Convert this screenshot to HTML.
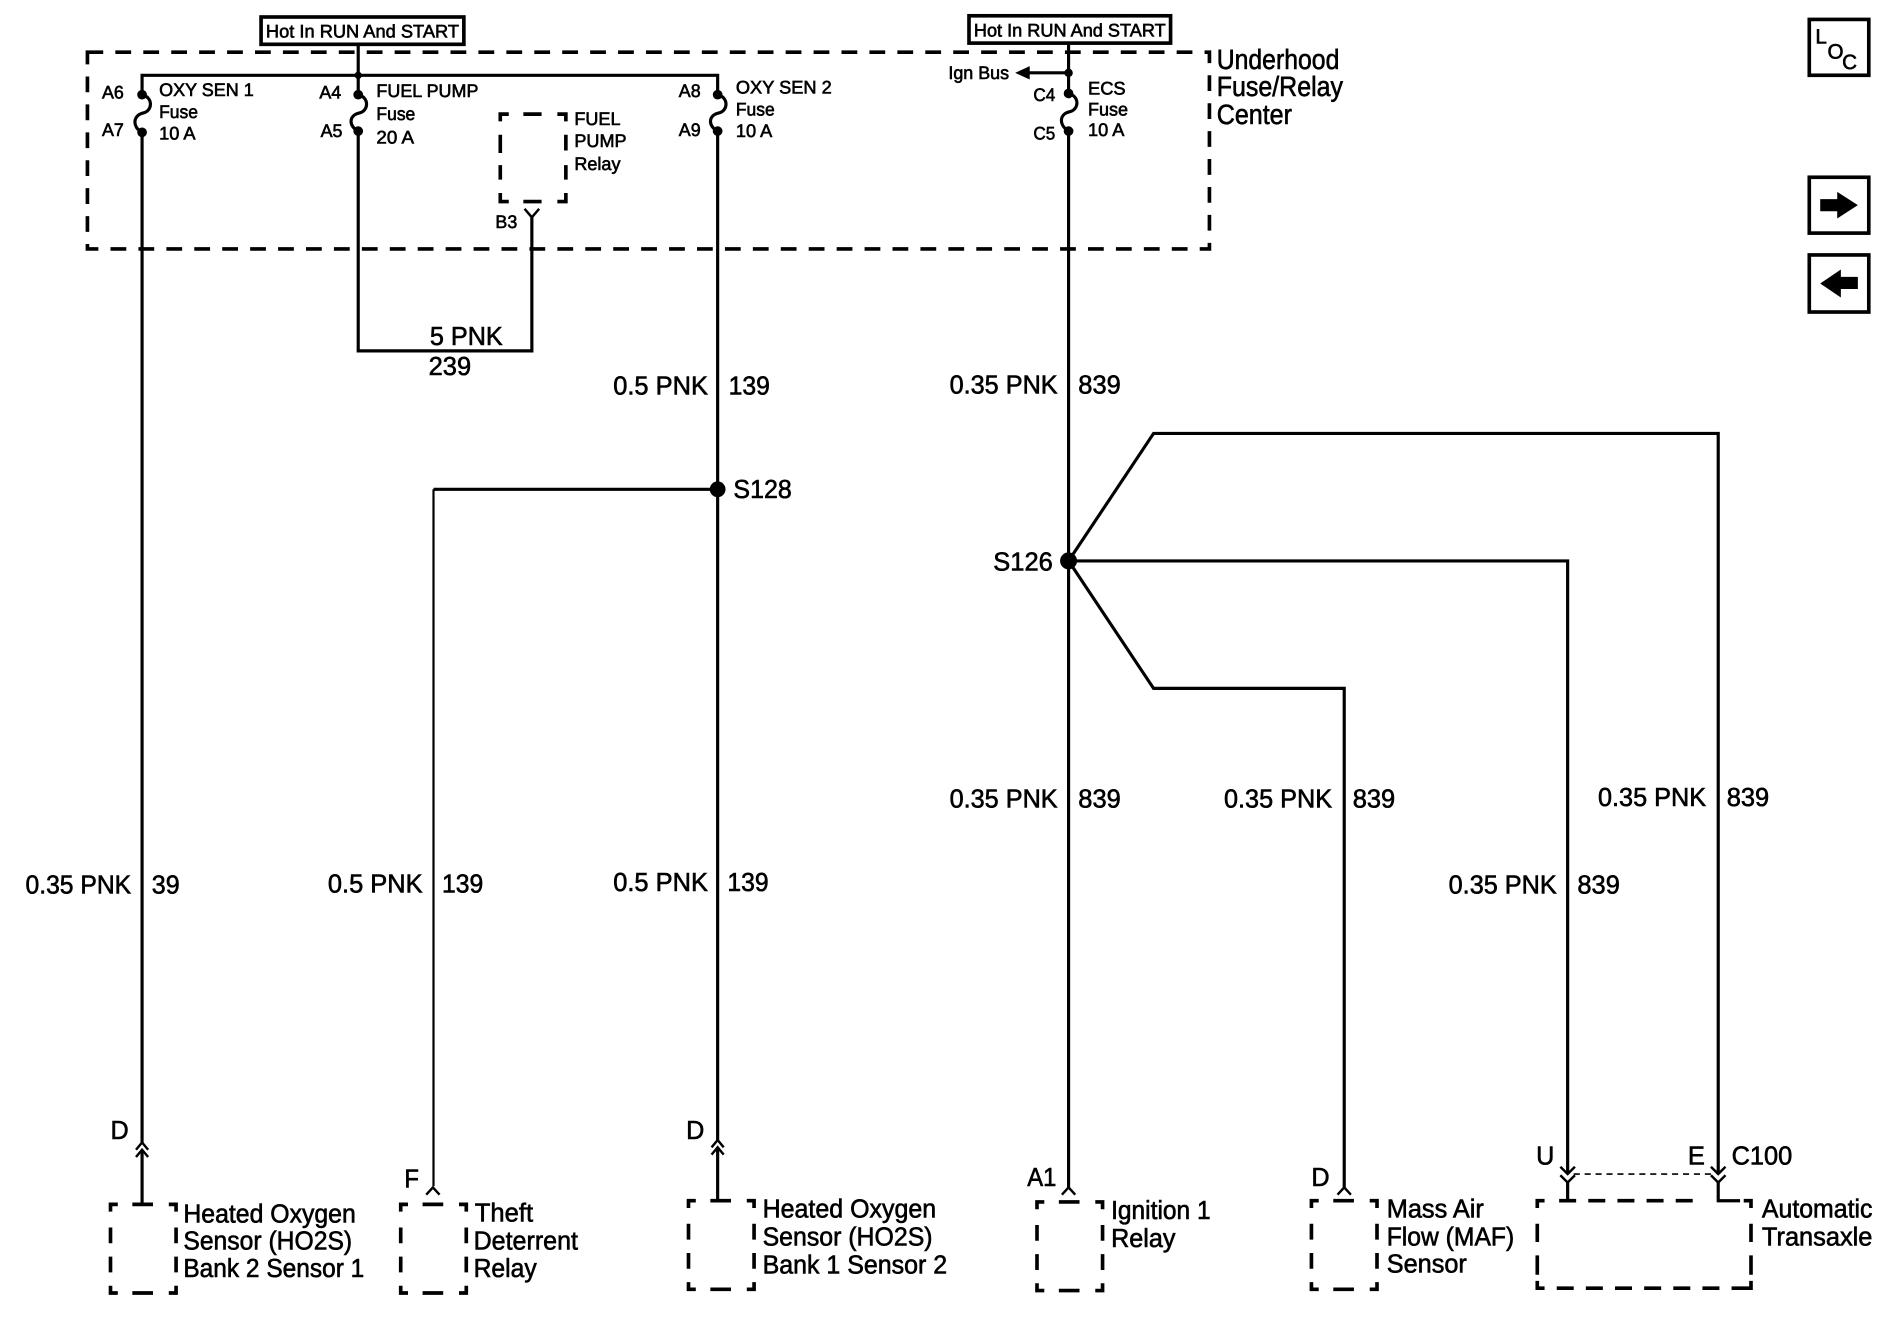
<!DOCTYPE html>
<html>
<head>
<meta charset="utf-8">
<style>
html,body{margin:0;padding:0;background:#fff;width:1904px;height:1344px;overflow:hidden}
svg{display:block}
text{font-family:"Liberation Sans",sans-serif;fill:#000;stroke:#000;stroke-width:.5}
.s{font-size:15px}.m{font-size:21.5px}.l{font-size:23px}
.w{fill:none;stroke:#000;stroke-width:2.6}
.t{fill:none;stroke:#000;stroke-width:2}
.d{fill:none;stroke:#000;stroke-width:3}
.f{fill:#000;stroke:none}
</style>
</head>
<body>
<svg xmlns="http://www.w3.org/2000/svg" width="1904" height="1344" viewBox="0 0 1568 1107" preserveAspectRatio="none" text-rendering="geometricPrecision">
<defs>
<g id="box" class="d">
<path d="M0 6V0H6M18 0H35M48 0H54V6M0 19V32M0 43V56M0 67V73H6M18 73H35M48 73H54V67M54 19V32M54 43V56"/>
</g>
</defs>
<!-- Hot boxes -->
<rect x="215" y="14" width="167" height="22.5" class="d"/>
<rect x="798" y="13" width="166" height="22.5" class="d"/>
<text x="219" y="31" class="s" textLength="159" lengthAdjust="spacingAndGlyphs">Hot In RUN And START</text>
<text x="802" y="30" class="s" textLength="158" lengthAdjust="spacingAndGlyphs">Hot In RUN And START</text>
<!-- Underhood box -->
<rect x="72" y="43" width="924" height="162" fill="none" stroke="#000" stroke-width="3" stroke-dasharray="13 10"/>
<!-- Top wiring -->
<path class="w" d="M295 37V78M117 78V62H591V78"/>
<path class="w" d="M117 78C126 80 126 91 118 93C109 95 109 105 117 109V941"/>
<path class="w" d="M295 78C304 80 304 91 296 93C287 95 287 104 295 108V289H438V178"/>
<path class="w" d="M591 78C600 80 600 91 592 93C583 95 583 104 591 108V939"/>
<path class="w" d="M880 37V77C889 79 889 90 881 92C872 94 872 103 880 108V979"/>
<circle class="f" cx="117" cy="78" r="4"/><circle class="f" cx="117" cy="109" r="4"/>
<circle class="f" cx="295" cy="78" r="4"/><circle class="f" cx="295" cy="108" r="4"/>
<circle class="f" cx="295" cy="62" r="3"/>
<circle class="f" cx="591" cy="78" r="4"/><circle class="f" cx="591" cy="108" r="4"/>
<circle class="f" cx="880" cy="77" r="4"/><circle class="f" cx="880" cy="108" r="4"/>
<circle class="f" cx="880" cy="60" r="3.5"/>
<path class="w" d="M880 60H846"/>
<path class="f" d="M836 60L848 54.500V65.500Z"/>
<path class="t" d="M432 172L438 179L444 172"/>
<!-- Relay box -->
<path class="d" d="M412 100V94H419M431 94H446M459 94H466V100M412 111V126M412 136V148M412 159V166H419M431 166H446M459 166H466V159M466 111V124M466 136V148"/>
<!-- Lower wiring -->
<path class="w" d="M591 403H357"/>
<path fill="none" stroke="#000" stroke-width="1.800" d="M357 403V977"/>
<circle class="f" cx="591" cy="403" r="6.500"/>
<path class="w" d="M880 462L950 357H1415V966M880 462H1291V966M880 462L950 567H1107V978"/>
<circle class="f" cx="880" cy="462" r="7"/>
<!-- connectors -->
<path class="t" d="M112 947L117 941L122 947M112 953L117 947L122 953"/>
<path class="w" d="M117 947V992"/>
<path class="t" d="M586 945L591 939L596 945M586 951L591 945L596 951"/>
<path class="w" d="M591 945V989"/>
<path class="t" d="M351 984L356.500 978L362 984"/>
<path class="t" d="M874.500 984L880 978L885.500 984"/>
<path class="t" d="M1101.500 984L1107 978L1112.500 984"/>
<path class="t" d="M1285 961L1291 967L1297 961M1285 968L1291 974L1297 968"/>
<path class="t" d="M1409 961L1415 967L1421 961M1409 968L1415 974L1421 968"/>
<path class="w" d="M1291 974V989M1415 974V989H1433"/>
<path fill="none" stroke="#000" stroke-width="1.300" stroke-dasharray="5 4" d="M1296 967H1410"/>
<!-- component boxes -->
<use href="#box" x="91" y="992"/>
<use href="#box" x="330" y="992"/>
<use href="#box" x="567" y="989"/>
<use href="#box" x="854" y="990"/>
<use href="#box" x="1080" y="989"/>
<path class="d" d="M1266 995V989H1272M1266 1008V1023M1266 1034V1050M1266 1055V1061H1272M1282 1061H1296M1306 1061H1320M1330 1061H1344M1354 1061H1368M1378 1061H1392M1402 1061H1416M1426 1061H1442V1055M1442 1034V1050M1442 1008V1023M1442 995V989H1436M1284 989H1298M1308 989H1322M1332 989H1346M1356 989H1370M1380 989H1394"/>
<!-- nav boxes -->
<rect x="1490" y="16" width="49" height="46" class="d"/>
<rect x="1490" y="146" width="49" height="46" class="d"/>
<rect x="1490" y="210" width="49" height="47" class="d"/>
<text x="1495" y="36" font-size="17">L</text><text x="1505" y="48" font-size="17">O</text><text x="1517" y="57" font-size="17">C</text>
<path class="f" d="M1499 164H1513V158L1530 169L1513 180V174H1499Z"/>
<path class="f" d="M1530 228H1516V222L1499 233.500L1516 245V238H1530Z"/>
<!-- small labels -->
<text x="84" y="81" class="s" textLength="18" lengthAdjust="spacingAndGlyphs">A6</text>
<text x="84" y="112" class="s" textLength="18" lengthAdjust="spacingAndGlyphs">A7</text>
<text x="131" y="79" class="s" textLength="78" lengthAdjust="spacingAndGlyphs">OXY SEN 1</text>
<text x="131" y="97" class="s" textLength="32" lengthAdjust="spacingAndGlyphs">Fuse</text>
<text x="131" y="115" class="s" textLength="30" lengthAdjust="spacingAndGlyphs">10 A</text>
<text x="263" y="81" class="s" textLength="18" lengthAdjust="spacingAndGlyphs">A4</text>
<text x="264" y="113" class="s" textLength="18" lengthAdjust="spacingAndGlyphs">A5</text>
<text x="310" y="80" class="s" textLength="84" lengthAdjust="spacingAndGlyphs">FUEL PUMP</text>
<text x="310" y="99" class="s" textLength="32" lengthAdjust="spacingAndGlyphs">Fuse</text>
<text x="310" y="118" class="s" textLength="31" lengthAdjust="spacingAndGlyphs">20 A</text>
<text x="473" y="103" class="s" textLength="38" lengthAdjust="spacingAndGlyphs">FUEL</text>
<text x="473" y="121" class="s" textLength="43" lengthAdjust="spacingAndGlyphs">PUMP</text>
<text x="473" y="140" class="s" textLength="38" lengthAdjust="spacingAndGlyphs">Relay</text>
<text x="408" y="188" class="s" textLength="18" lengthAdjust="spacingAndGlyphs">B3</text>
<text x="559" y="80" class="s" textLength="18" lengthAdjust="spacingAndGlyphs">A8</text>
<text x="559" y="112" class="s" textLength="18" lengthAdjust="spacingAndGlyphs">A9</text>
<text x="606" y="77" class="s" textLength="79" lengthAdjust="spacingAndGlyphs">OXY SEN 2</text>
<text x="606" y="95" class="s" textLength="32" lengthAdjust="spacingAndGlyphs">Fuse</text>
<text x="606" y="113" class="s" textLength="30" lengthAdjust="spacingAndGlyphs">10 A</text>
<text x="781" y="65" class="s" textLength="50" lengthAdjust="spacingAndGlyphs">Ign Bus</text>
<text x="851" y="83" class="s" textLength="18" lengthAdjust="spacingAndGlyphs">C4</text>
<text x="851" y="115" class="s" textLength="18" lengthAdjust="spacingAndGlyphs">C5</text>
<text x="896" y="78" class="s" textLength="31" lengthAdjust="spacingAndGlyphs">ECS</text>
<text x="896" y="95" class="s" textLength="33" lengthAdjust="spacingAndGlyphs">Fuse</text>
<text x="896" y="112" class="s" textLength="30" lengthAdjust="spacingAndGlyphs">10 A</text>
<!-- large labels -->
<text x="1002" y="57" class="l" textLength="101" lengthAdjust="spacingAndGlyphs">Underhood</text>
<text x="1002" y="79" class="l" textLength="104" lengthAdjust="spacingAndGlyphs">Fuse/Relay</text>
<text x="1002" y="102" class="l" textLength="62" lengthAdjust="spacingAndGlyphs">Center</text>
<text x="354" y="284" class="m" textLength="60" lengthAdjust="spacingAndGlyphs">5 PNK</text>
<text x="353" y="309" class="m" textLength="35" lengthAdjust="spacingAndGlyphs">239</text>
<text x="505" y="325" class="m" textLength="78" lengthAdjust="spacingAndGlyphs">0.5 PNK</text>
<text x="600" y="325" class="m" textLength="34" lengthAdjust="spacingAndGlyphs">139</text>
<text x="782" y="324" class="m" textLength="89" lengthAdjust="spacingAndGlyphs">0.35 PNK</text>
<text x="888" y="324" class="m" textLength="35" lengthAdjust="spacingAndGlyphs">839</text>
<text x="604" y="410" class="m" textLength="48" lengthAdjust="spacingAndGlyphs">S128</text>
<text x="818" y="470" class="m" textLength="49" lengthAdjust="spacingAndGlyphs">S126</text>
<text x="782" y="665" class="m" textLength="89" lengthAdjust="spacingAndGlyphs">0.35 PNK</text>
<text x="888" y="665" class="m" textLength="35" lengthAdjust="spacingAndGlyphs">839</text>
<text x="1008" y="665" class="m" textLength="89" lengthAdjust="spacingAndGlyphs">0.35 PNK</text>
<text x="1114" y="665" class="m" textLength="35" lengthAdjust="spacingAndGlyphs">839</text>
<text x="1316" y="664" class="m" textLength="89" lengthAdjust="spacingAndGlyphs">0.35 PNK</text>
<text x="1422" y="664" class="m" textLength="35" lengthAdjust="spacingAndGlyphs">839</text>
<text x="1193" y="736" class="m" textLength="89" lengthAdjust="spacingAndGlyphs">0.35 PNK</text>
<text x="1299" y="736" class="m" textLength="35" lengthAdjust="spacingAndGlyphs">839</text>
<text x="21" y="736" class="m" textLength="87" lengthAdjust="spacingAndGlyphs">0.35 PNK</text>
<text x="125" y="736" class="m" textLength="23" lengthAdjust="spacingAndGlyphs">39</text>
<text x="270" y="735" class="m" textLength="78" lengthAdjust="spacingAndGlyphs">0.5 PNK</text>
<text x="364" y="735" class="m" textLength="34" lengthAdjust="spacingAndGlyphs">139</text>
<text x="505" y="734" class="m" textLength="78" lengthAdjust="spacingAndGlyphs">0.5 PNK</text>
<text x="599" y="734" class="m" textLength="34" lengthAdjust="spacingAndGlyphs">139</text>
<text x="91" y="938" class="m" textLength="15" lengthAdjust="spacingAndGlyphs">D</text>
<text x="333" y="978" class="m" textLength="12" lengthAdjust="spacingAndGlyphs">F</text>
<text x="565" y="938" class="m" textLength="15" lengthAdjust="spacingAndGlyphs">D</text>
<text x="846" y="977" class="m" textLength="24" lengthAdjust="spacingAndGlyphs">A1</text>
<text x="1080" y="977" class="m" textLength="15" lengthAdjust="spacingAndGlyphs">D</text>
<text x="1265" y="959" class="m" textLength="15" lengthAdjust="spacingAndGlyphs">U</text>
<text x="1390" y="959" class="m" textLength="14" lengthAdjust="spacingAndGlyphs">E</text>
<text x="1426" y="959" class="m" textLength="50" lengthAdjust="spacingAndGlyphs">C100</text>
<text x="151" y="1007" class="m" textLength="142" lengthAdjust="spacingAndGlyphs">Heated Oxygen</text>
<text x="151" y="1029" class="m" textLength="139" lengthAdjust="spacingAndGlyphs">Sensor (HO2S)</text>
<text x="151" y="1052" class="m" textLength="149" lengthAdjust="spacingAndGlyphs">Bank 2 Sensor 1</text>
<text x="391" y="1006" class="m" textLength="48" lengthAdjust="spacingAndGlyphs">Theft</text>
<text x="390" y="1029" class="m" textLength="86" lengthAdjust="spacingAndGlyphs">Deterrent</text>
<text x="390" y="1052" class="m" textLength="52" lengthAdjust="spacingAndGlyphs">Relay</text>
<text x="628" y="1003" class="m" textLength="143" lengthAdjust="spacingAndGlyphs">Heated Oxygen</text>
<text x="628" y="1026" class="m" textLength="140" lengthAdjust="spacingAndGlyphs">Sensor (HO2S)</text>
<text x="628" y="1049" class="m" textLength="152" lengthAdjust="spacingAndGlyphs">Bank 1 Sensor 2</text>
<text x="915" y="1004" class="m" textLength="82" lengthAdjust="spacingAndGlyphs">Ignition 1</text>
<text x="915" y="1027" class="m" textLength="53" lengthAdjust="spacingAndGlyphs">Relay</text>
<text x="1142" y="1003" class="m" textLength="80" lengthAdjust="spacingAndGlyphs">Mass Air</text>
<text x="1142" y="1026" class="m" textLength="105" lengthAdjust="spacingAndGlyphs">Flow (MAF)</text>
<text x="1142" y="1048" class="m" textLength="66" lengthAdjust="spacingAndGlyphs">Sensor</text>
<text x="1451" y="1003" class="m" textLength="91" lengthAdjust="spacingAndGlyphs">Automatic</text>
<text x="1451" y="1026" class="m" textLength="91" lengthAdjust="spacingAndGlyphs">Transaxle</text>
</svg>
</body>
</html>
